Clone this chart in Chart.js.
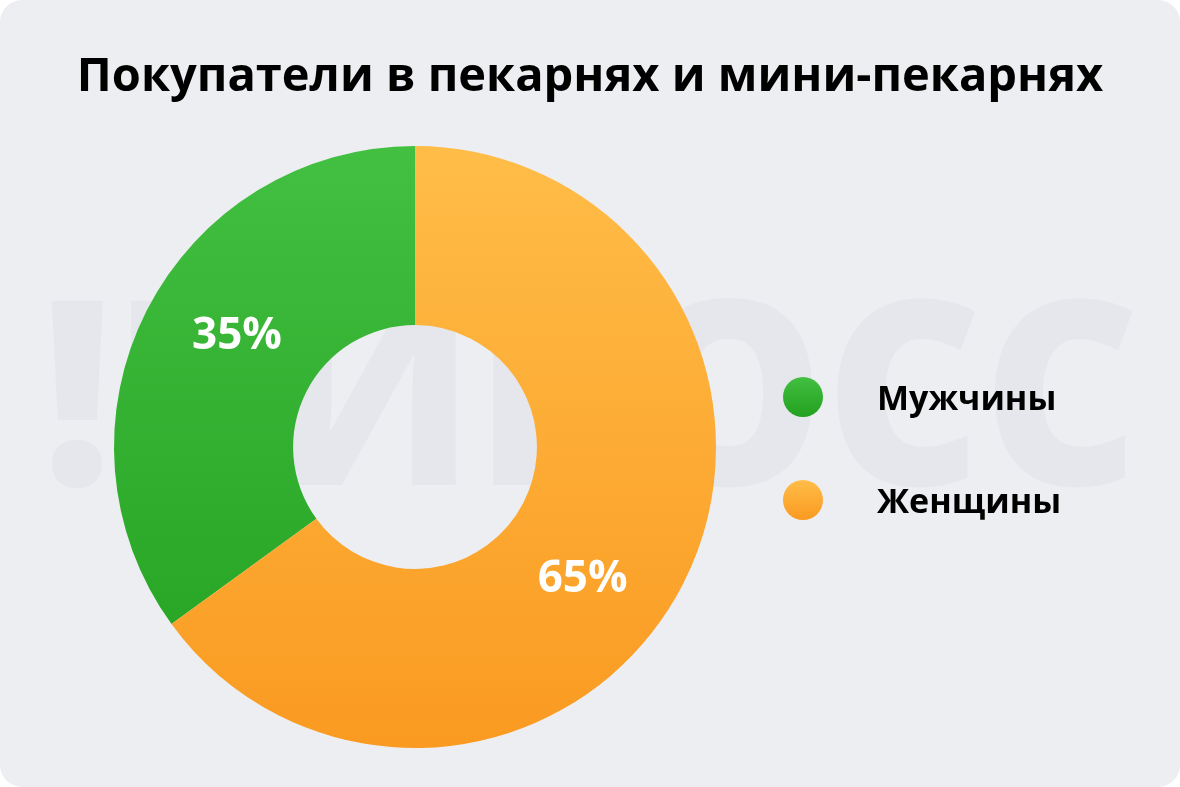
<!DOCTYPE html>
<html>
<head>
<meta charset="utf-8">
<script src="https://cdn.jsdelivr.net/npm/chart.js@4"></script>
<style>
  html, body { margin: 0; padding: 0; background: #ffffff; }
  .card {
    position: absolute; left: 0; top: 0;
    width: 1180px; height: 787px;
    background: #edeef2; border-radius: 22px; overflow: hidden;
  }
  canvas { position: absolute; left: 0; top: 0; }
</style>
</head>
<body>
<div class="card">
  <canvas id="myChart" width="1180" height="787"></canvas>
</div>
<script>
// данные
const title = "Покупатели в пекарнях и мини-пекарнях";
const labels = ["Мужчины", "Женщины"];
const values = [35, 65];
const colorsTop = ["#43bf41", "#ffbd48"];
const colorsBottom = ["#22a01f", "#fa9a21"];
const watermark = "!БИБОСС";

const FONT = "'Open Sans', 'Noto Sans', sans-serif";

// водяной знак + заголовок + легенда + подписи
const decor = {
  id: "decor",
  beforeDraw(chart) {
    const ctx = chart.ctx;
    ctx.save();
    ctx.fillStyle = "#e6e7ec";
    ctx.font = "800 258px " + FONT;
    ctx.textBaseline = "alphabetic";
    const w = ctx.measureText(watermark).width;
    ctx.translate(42, 485);
    ctx.scale(1098 / w, 1);
    ctx.fillText(watermark, 0, 0);
    ctx.restore();
  },
  afterDraw(chart) {
    const ctx = chart.ctx;
    ctx.save();
    // заголовок
    ctx.fillStyle = "#000000";
    ctx.font = "bold 47px " + FONT;
    ctx.textAlign = "center";
    ctx.textBaseline = "alphabetic";
    ctx.fillText(title, 590, 91);

    // легенда
    ctx.textAlign = "left";
    ctx.font = "bold 34px " + FONT;
    for (let i = 0; i < labels.length; i++) {
      const cy = 397 + i * 103;
      const g = ctx.createLinearGradient(0, cy - 20, 0, cy + 20);
      g.addColorStop(0, colorsTop[i]);
      g.addColorStop(1, colorsBottom[i]);
      ctx.fillStyle = g;
      ctx.beginPath();
      ctx.arc(803, cy, 20, 0, Math.PI * 2);
      ctx.fill();
      ctx.fillStyle = "#000000";
      ctx.fillText(labels[i], 877, cy + 13);
    }

    // проценты на сегментах
    const meta = chart.getDatasetMeta(0);
    ctx.fillStyle = "#ffffff";
    ctx.font = "bold 44px " + FONT;
    ctx.textAlign = "center";
    meta.data.forEach(function(arc, i) {
      const p = arc.getProps(["x", "y", "startAngle", "endAngle", "innerRadius", "outerRadius"], true);
      const a = p.startAngle + (p.endAngle - p.startAngle) * 0.545;
      const r = (p.innerRadius + p.outerRadius) / 2;
      ctx.fillText(values[i] + "%", p.x + Math.cos(a) * r, p.y + Math.sin(a) * r + 16);
    });
    ctx.restore();
  }
};

const ctx = document.getElementById("myChart");

new Chart(ctx, {
  type: "doughnut",
  data: {
    labels: labels,
    datasets: [{
      data: values,
      borderWidth: 0,
      backgroundColor: function(c) {
        const area = c.chart.chartArea;
        if (!area) return colorsTop[c.dataIndex];
        const g = c.chart.ctx.createLinearGradient(0, area.top, 0, area.bottom);
        g.addColorStop(0, colorsTop[c.dataIndex]);
        g.addColorStop(1, colorsBottom[c.dataIndex]);
        return g;
      }
    }]
  },
  options: {
    responsive: false,
    animation: false,
    cutout: "40.5%",
    rotation: -values[0] / 100 * 360,
    layout: { padding: { left: 114, top: 146, right: 464, bottom: 39 } },
    plugins: {
      legend: { display: false },
      tooltip: { enabled: false },
      title: { display: false }
    }
  },
  plugins: [decor]
});
</script>
</body>
</html>
